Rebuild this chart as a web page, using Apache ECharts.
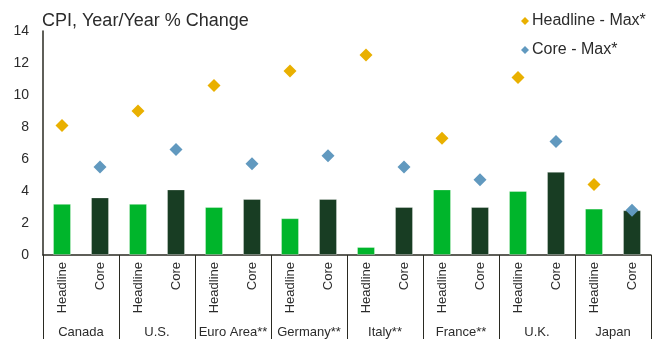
<!DOCTYPE html>
<html>
<head>
<meta charset="utf-8">
<script src="https://cdn.jsdelivr.net/npm/echarts@6/dist/echarts.min.js"></script>
<style>
  html, body { margin: 0; padding: 0; background: #fff; }
  #chart { width: 655px; height: 339px; }
</style>
</head>
<body>
<div id="chart"></div>
<script>
// Countries and measures
const countries = ['Canada', 'U.S.', 'Euro Area**', 'Germany**', 'Italy**', 'France**', 'U.K.', 'Japan'];
const measures = ['Headline', 'Core'];

// Latest year/year % change
const headline = [3.2, 3.2, 3.0, 2.3, 0.5, 4.1, 4.0, 2.9];
const core = [3.6, 4.1, 3.5, 3.5, 3.0, 3.0, 5.2, 2.8];

// Peak values
const headlineMax = [8.1, 9.0, 10.6, 11.5, 12.5, 7.3, 11.1, 4.4];
const coreMax = [5.5, 6.6, 5.7, 6.2, 5.5, 4.7, 7.1, 2.8];

// y-axis ticks
const yTicks = [0, 2, 4, 6, 8, 10, 12, 14];

const GREEN = '#00b52b';
const DARK = '#183d23';
const GOLD = '#e9b000';
const BLUE = '#6199bf';
const FONT = 'Liberation Sans, Arial, sans-serif';

// Interleave per-country values into the 16 measure slots
const cats = [];
countries.forEach(() => measures.forEach(m => cats.push(m)));
const slot = (vals, which) => {
  const out = [];
  vals.forEach(v => {
    out.push(which === 0 ? v : '-');
    out.push(which === 1 ? v : '-');
  });
  return out;
};

const chart = echarts.init(document.getElementById('chart'), null, { renderer: 'canvas' });
chart.setOption({
  animation: false,
  textStyle: { fontFamily: FONT },
  title: {
    text: 'CPI, Year/Year % Change',
    left: 37, top: 7,
    textStyle: { fontFamily: FONT, fontSize: 18, fontWeight: 'normal', color: '#2b2b2b' }
  },
  legend: {
    orient: 'vertical',
    left: 516, top: 8,
    itemWidth: 8, itemHeight: 8, itemGap: 13,
    icon: 'diamond',
    data: ['Headline - Max*', 'Core - Max*'],
    textStyle: { fontFamily: FONT, fontSize: 16, color: '#2b2b2b', padding: [0, 0, 0, -2] }
  },
  grid: { left: 43, right: 4, top: 31, bottom: 84, containLabel: false },
  xAxis: [
    {
      type: 'category',
      data: cats,
      axisLine: { show: true, lineStyle: { color: '#2a2a22', width: 1.5 } },
      axisTick: { show: false },
      axisLabel: {
        interval: 0, rotate: 90, margin: 7,
        fontFamily: FONT, fontSize: 13, color: '#2b2b2b'
      }
    },
    {
      type: 'category',
      data: countries,
      position: 'bottom',
      axisLine: { show: false },
      axisTick: { show: true, interval: 0, length: 86, lineStyle: { color: '#2a2a22', width: 1 } },
      axisLabel: {
        interval: 0, margin: 71,
        fontFamily: FONT, fontSize: 13, color: '#2b2b2b'
      }
    }
  ],
  yAxis: {
    type: 'value',
    min: yTicks[0], max: yTicks[yTicks.length - 1], interval: 2,
    axisLine: { show: true, lineStyle: { color: '#2a2a22', width: 1.5 } },
    axisTick: { show: false },
    splitLine: { show: false },
    axisLabel: { margin: 14, fontFamily: FONT, fontSize: 14, color: '#2b2b2b' }
  },
  series: [
    {
      name: 'Headline',
      type: 'bar',
      xAxisIndex: 0,
      data: slot(headline, 0),
      barWidth: 18,
      barGap: '-100%',
      itemStyle: { color: GREEN, borderColor: 'rgba(255,255,255,0.3)', borderWidth: 1 }
    },
    {
      name: 'Core',
      type: 'bar',
      xAxisIndex: 0,
      data: slot(core, 1),
      barWidth: 18,
      barGap: '-100%',
      itemStyle: { color: DARK, borderColor: 'rgba(255,255,255,0.3)', borderWidth: 1 }
    },
    {
      name: 'Headline - Max*',
      type: 'scatter',
      xAxisIndex: 0,
      symbol: 'diamond',
      symbolSize: 13,
      data: slot(headlineMax, 0),
      itemStyle: { color: GOLD, opacity: 1 },
      z: 5
    },
    {
      name: 'Core - Max*',
      type: 'scatter',
      xAxisIndex: 0,
      symbol: 'diamond',
      symbolSize: 13,
      data: slot(coreMax, 1),
      itemStyle: { color: BLUE, opacity: 1 },
      z: 5
    }
  ]
});
</script>
</body>
</html>
